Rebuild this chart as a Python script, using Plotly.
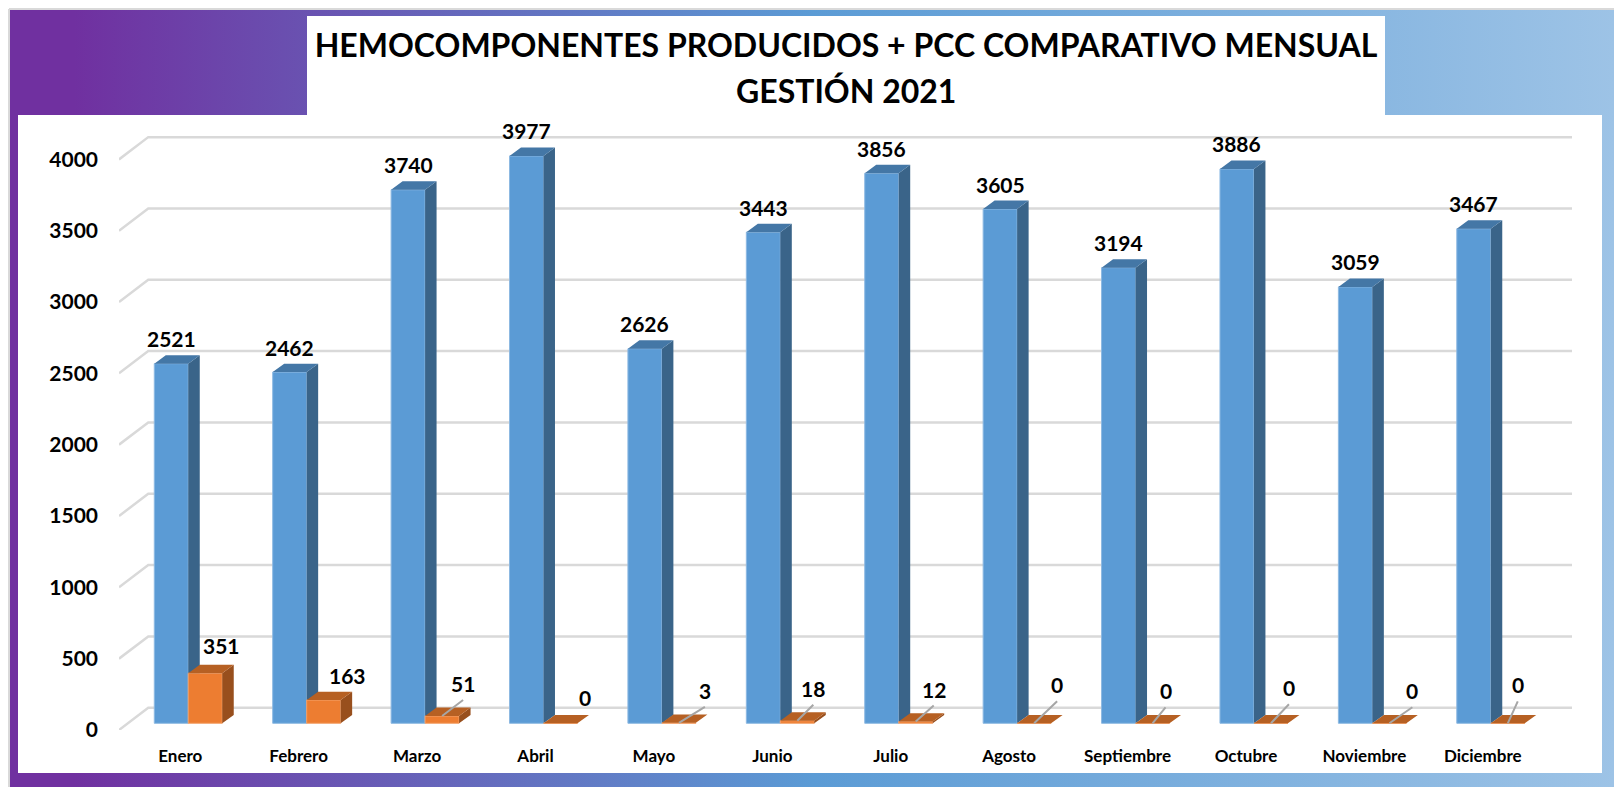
import base64
import plotly.graph_objects as go

months = ['Enero', 'Febrero', 'Marzo', 'Abril', 'Mayo', 'Junio', 'Julio', 'Agosto',
          'Septiembre', 'Octubre', 'Noviembre', 'Diciembre']
hemocomponentes = [2521, 2462, 3740, 3977, 2626, 3443, 3856, 3605, 3194, 3886, 3059, 3467]
pcc = [351, 163, 51, 0, 3, 18, 12, 0, 0, 0, 0, 0]
y_ticks = [0, 500, 1000, 1500, 2000, 2500, 3000, 3500, 4000]

# where the pcc labels sit relative to the top of the bar, pixels
pcc_label_dx = [16, 24, 21, 25, 26, 16, 18, 23, 13, 18, 23, 10]
pcc_label_dy = [-28, -25, -33, -26, -33, -33, -33, -39, -33, -36, -33, -39]
pcc_leader = [False, False, True, False, True, True, True, True, True, True, True, True]

W, H = 1614, 787
FONT = 'Lato'

# fake 3d: depth of the planes, in axis units
BAR_W = 0.287
BAR_BASE = 47        # front of the bars above the axis plane
WALL = 156           # back wall above the axis plane
BAR_DX, BAR_DY = 0.097, 59
FLOOR_L, FLOOR_R = -0.585, -0.338
X_MAX = 11.686
Y_MAX = 4206
LEADER_GAP = 17      # label centre above the end of its leader line, pixels


def px(x):
    return x / W


def py(y):
    return 1 - y / H


def boxes(xs, tops):
    # side and top faces of each bar
    sx, sy, tx, ty = [], [], [], []
    for x, v in zip(xs, tops):
        t = v + BAR_BASE
        r = x + BAR_W / 2
        l = x - BAR_W / 2
        sx += [r, r + BAR_DX, r + BAR_DX, r, r, None]
        sy += [BAR_BASE, BAR_BASE + BAR_DY, t + BAR_DY, t, BAR_BASE, None]
        tx += [l, l + BAR_DX, r + BAR_DX, r, l, None]
        ty += [t, t + BAR_DY, t + BAR_DY, t, t, None]
    return sx, sy, tx, ty


def face(x, y, color, z):
    return go.Scatter(x=x, y=y, mode='lines', fill='toself', fillcolor=color,
                      line=dict(width=0, color=color), hoverinfo='skip',
                      showlegend=False, zorder=z)


fig = go.Figure()
pos = list(range(len(months)))
blue_x = [p - BAR_W / 2 for p in pos]
orange_x = [p + BAR_W / 2 for p in pos]

# back wall and floor lines
grid_x, grid_y = [], []
for t in y_ticks:
    grid_x += [FLOOR_L, FLOOR_R, X_MAX, None]
    grid_y += [t, t + WALL, t + WALL, None]
fig.add_trace(go.Scatter(x=grid_x, y=grid_y, mode='lines', cliponaxis=False,
                         line=dict(color='#D9D9D9', width=2.5), hoverinfo='skip',
                         showlegend=False, zorder=-1))

fig.add_trace(go.Bar(x=blue_x, y=hemocomponentes, base=BAR_BASE, width=BAR_W,
                     marker=dict(color='#5B9BD5', line=dict(color='#8DB9E2', width=1)),
                     name='Hemocomponentes', showlegend=False, zorder=0))
sx, sy, tx, ty = boxes(blue_x, hemocomponentes)
fig.add_trace(face(sx, sy, '#3A6489', 0))
fig.add_trace(face(tx, ty, '#4477A6', 0))

fig.add_trace(go.Bar(x=orange_x, y=pcc, base=BAR_BASE, width=BAR_W,
                     marker=dict(color='#ED7D31', line=dict(color='#F4A36C', width=1)),
                     name='PCC', showlegend=False, zorder=1))
sx, sy, tx, ty = boxes(orange_x, pcc)
fig.add_trace(face(sx, sy, '#984F1D', 1))
fig.add_trace(face(tx, ty, '#B66023', 1))

label_font = dict(family=FONT, size=21, color='black', weight='bold')
annotations = []
for x, v in zip(blue_x, hemocomponentes):
    annotations.append(dict(x=x, y=v + BAR_BASE, text=str(v), showarrow=False,
                            yshift=25, font=label_font))
for x, v, dx, dy, lead in zip(orange_x, pcc, pcc_label_dx, pcc_label_dy, pcc_leader):
    if lead:
        annotations.append(dict(x=x, y=v + BAR_BASE, text=str(v), showarrow=True, arrowhead=0,
                                arrowwidth=2, arrowcolor='#A6A6A6', ax=dx, ay=dy + LEADER_GAP,
                                xanchor='center', yanchor='bottom', borderpad=3, font=label_font))
    else:
        annotations.append(dict(x=x, y=v + BAR_BASE, text=str(v), showarrow=False,
                                xshift=dx, yshift=-dy, font=label_font))

title_font = dict(family=FONT, size=32, color='black', weight='bold')
annotations.append(dict(xref='paper', yref='paper', x=px(846), y=py(90), text='GESTIÓN 2021',
                        xanchor='center', yanchor='middle', showarrow=False, font=title_font))

# purple to blue page background, plotly shapes have no gradient
svg = ('<svg xmlns="http://www.w3.org/2000/svg" width="1604" height="777" preserveAspectRatio="none">'
       '<defs><linearGradient id="g">'
       '<stop offset="0.04" stop-color="#7030A0"/>'
       '<stop offset="0.5" stop-color="#5B9BD5"/>'
       '<stop offset="1" stop-color="#9DC3E6"/>'
       '</linearGradient></defs><rect width="1604" height="777" fill="url(#g)"/></svg>')
background = dict(source='data:image/svg+xml;base64,' + base64.b64encode(svg.encode()).decode(),
                  xref='paper', yref='paper', x=px(10), y=py(10), sizex=px(1604), sizey=777 / H,
                  sizing='stretch', xanchor='left', yanchor='top', layer='below')

shapes = [
    dict(type='line', xref='paper', yref='paper', x0=px(9), x1=px(9), y0=0, y1=py(9),
         line=dict(color='#D9D9D9', width=2), layer='below'),
    dict(type='line', xref='paper', yref='paper', x0=px(9), x1=1, y0=py(9), y1=py(9),
         line=dict(color='#D9D9D9', width=2), layer='below'),
    dict(type='rect', xref='paper', yref='paper', x0=px(18), x1=px(1602), y0=py(773), y1=py(115),
         fillcolor='white', line=dict(width=0), layer='below'),
    dict(type='rect', xref='paper', yref='paper', x0=px(307), x1=px(1385), y0=py(115), y1=py(16),
         fillcolor='white', line=dict(width=0), layer='below'),
]

fig.update_layout(
    width=W, height=H,
    margin=dict(l=0, r=0, t=0, b=0),
    autosize=False,
    paper_bgcolor='white',
    plot_bgcolor='rgba(0,0,0,0)',
    barmode='overlay',
    title=dict(text='HEMOCOMPONENTES PRODUCIDOS + PCC COMPARATIVO MENSUAL',
               font=title_font,
               x=px(846), xanchor='center', y=py(46), yanchor='middle'),
    xaxis=dict(domain=[px(119), px(1572)], range=[FLOOR_L, X_MAX], showgrid=False, zeroline=False,
               showline=False, automargin=False, tickvals=pos, ticktext=months, ticklabelshift=-8,
               ticklabelstandoff=14,
               tickfont=dict(family=FONT, size=17, color='black', weight='bold')),
    yaxis=dict(domain=[py(730), py(130)], range=[0, Y_MAX], showgrid=False, zeroline=False,
               showline=False, automargin=False, tickvals=y_ticks, ticklabelstandoff=20,
               tickfont=dict(family=FONT, size=21, color='black', weight='bold')),
    annotations=annotations,
    shapes=shapes,
    images=[background],
)

fig.write_html("out.html", config=dict(displayModeBar=False),
               post_script="document.body.style.margin='0';")
